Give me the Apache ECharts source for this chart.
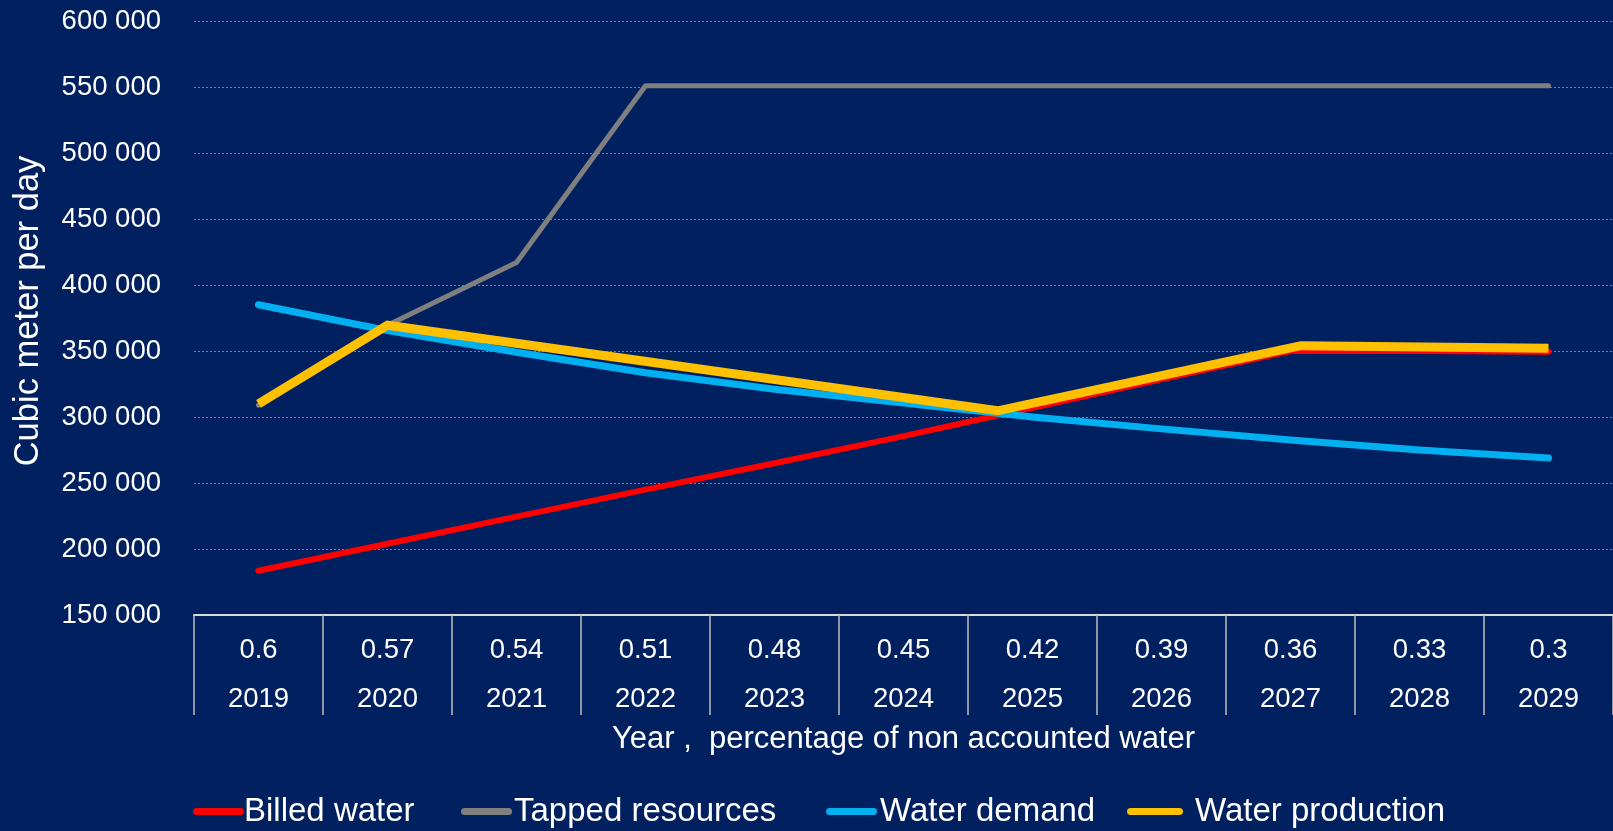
<!DOCTYPE html>
<html>
<head>
<meta charset="utf-8">
<script src="https://cdn.jsdelivr.net/npm/echarts@6/dist/echarts.min.js"></script>
<style>
html,body{margin:0;padding:0;background:#002060;}
#chart{width:1613px;height:831px;}
</style>
</head>
<body>
<div id="chart"></div>
<script>
// ---- data ----
const years = ['2019','2020','2021','2022','2023','2024','2025','2026','2027','2028','2029'];
const nrwShare = ['0.6','0.57','0.54','0.51','0.48','0.45','0.42','0.39','0.36','0.33','0.3'];
const billedWater = [183500, 204000, 224500, 245000, 265000, 285500, 307000, 328500, 350000, 350000, 349500];
const tappedResources = [309000, 369500, 417000, 551000, 551000, 551000, 551000, 551000, 551000, 551000, 551000];
const waterDemand = [385000, 365500, 349000, 333500, 321000, 310500, 300000, 291000, 282500, 275000, 269000];
// water production line vertices (year position, value)
const productionYears = [2019, 2020, 2024.73, 2027.08, 2029];
const waterProduction = [310000, 369500, 304700, 354000, 352000];
const yMin = 150000, yMax = 600000, yStep = 50000;

const seriesNames = ['Billed water', 'Tapped resources', 'Water demand', 'Water production'];
const seriesColors = ['#FF0000', '#7F7F7F', '#00B0F0', '#FFC000'];

// ---- build ----
const FONT = '"Liberation Sans", Arial, sans-serif';
const categories = years.map((y, i) => nrwShare[i] + '\n' + y);
const productionData = productionYears.map((x, i) => [x, waterProduction[i]]);
const fmtThousands = v => String(v).replace(/\B(?=(\d{3})+(?!\d))/g, ' ');
const pill = 'path://M3.5,0H47.5A3.5,3.5,0,0,1,47.5,7H3.5A3.5,3.5,0,0,1,3.5,0Z';

function legendFor(name, left, w, textShift) {
  return {
    data: [name], left: left, top: 795, padding: 0,
    itemWidth: w, itemHeight: 7, icon: pill, selectedMode: false,
    symbolKeepAspect: false,
    itemStyle: { borderWidth: 0 },
    textStyle: { color: '#FFFFFF', fontSize: 33, fontFamily: FONT, padding: [0, 0, 0, textShift] }
  };
}

const chart = echarts.init(document.getElementById('chart'), null, { renderer: 'canvas' });
chart.setOption({
  backgroundColor: '#002060',
  animation: false,
  grid: { left: 194, right: -11, top: 21, bottom: 216, containLabel: false },
  legend: [
    legendFor(seriesNames[0], 193, 51, -5),
    legendFor(seriesNames[1], 461, 51, -3),
    legendFor(seriesNames[2], 826, 51, -2),
    legendFor(seriesNames[3], 1127, 56, 7)
  ],
  xAxis: [{
    type: 'category',
    data: categories,
    boundaryGap: true,
    axisLine: { show: true, lineStyle: { color: '#D9D9D9', width: 2 } },
    axisTick: { show: true, interval: 0, length: 100, lineStyle: { color: '#BFBFBF', width: 1.5 } },
    axisLabel: { interval: 0, color: '#FFFFFF', fontSize: 27.5, lineHeight: 49, margin: 11, fontFamily: FONT },
    splitLine: { show: false },
    name: 'Year ,  percentage of non accounted water',
    nameLocation: 'middle',
    nameGap: 109,
    nameMoveOverlap: false,
    nameTextStyle: { color: '#FFFFFF', fontSize: 31, fontFamily: FONT }
  }, {
    type: 'value',
    min: 2018.5, max: 2029.5,
    show: false,
    splitLine: { show: false }
  }],
  yAxis: {
    type: 'value',
    min: yMin, max: yMax, interval: yStep,
    axisLine: { show: false },
    axisTick: { show: false },
    axisLabel: { color: '#FFFFFF', fontSize: 27.5, margin: 33, fontFamily: FONT, formatter: fmtThousands },
    splitLine: { show: true, lineStyle: { color: 'rgba(200,210,230,0.55)', width: 1, type: [2, 2] } },
    name: 'Cubic meter per day',
    nameLocation: 'middle',
    nameGap: 148,
    nameMoveOverlap: false,
    nameTextStyle: { color: '#FFFFFF', fontSize: 34.5, fontFamily: FONT, padding: [0, 0, 0, 14] }
  },
  series: [
    {
      name: seriesNames[0], type: 'line', data: billedWater, symbol: 'none',
      itemStyle: { color: seriesColors[0] },
      lineStyle: { color: seriesColors[0], width: 6, cap: 'round', join: 'round' }
    },
    {
      name: seriesNames[1], type: 'line', data: tappedResources, symbol: 'none',
      itemStyle: { color: seriesColors[1] },
      lineStyle: { color: seriesColors[1], width: 5, cap: 'round', join: 'round' }
    },
    {
      name: seriesNames[2], type: 'line', data: waterDemand, symbol: 'none',
      itemStyle: { color: seriesColors[2] },
      lineStyle: { color: seriesColors[2], width: 7, cap: 'round', join: 'round' }
    },
    {
      name: seriesNames[3], type: 'line', xAxisIndex: 1, data: productionData, symbol: 'none',
      itemStyle: { color: seriesColors[3] },
      lineStyle: { color: seriesColors[3], width: 9, cap: 'butt', join: 'miter' }
    }
  ]
});
</script>
</body>
</html>
